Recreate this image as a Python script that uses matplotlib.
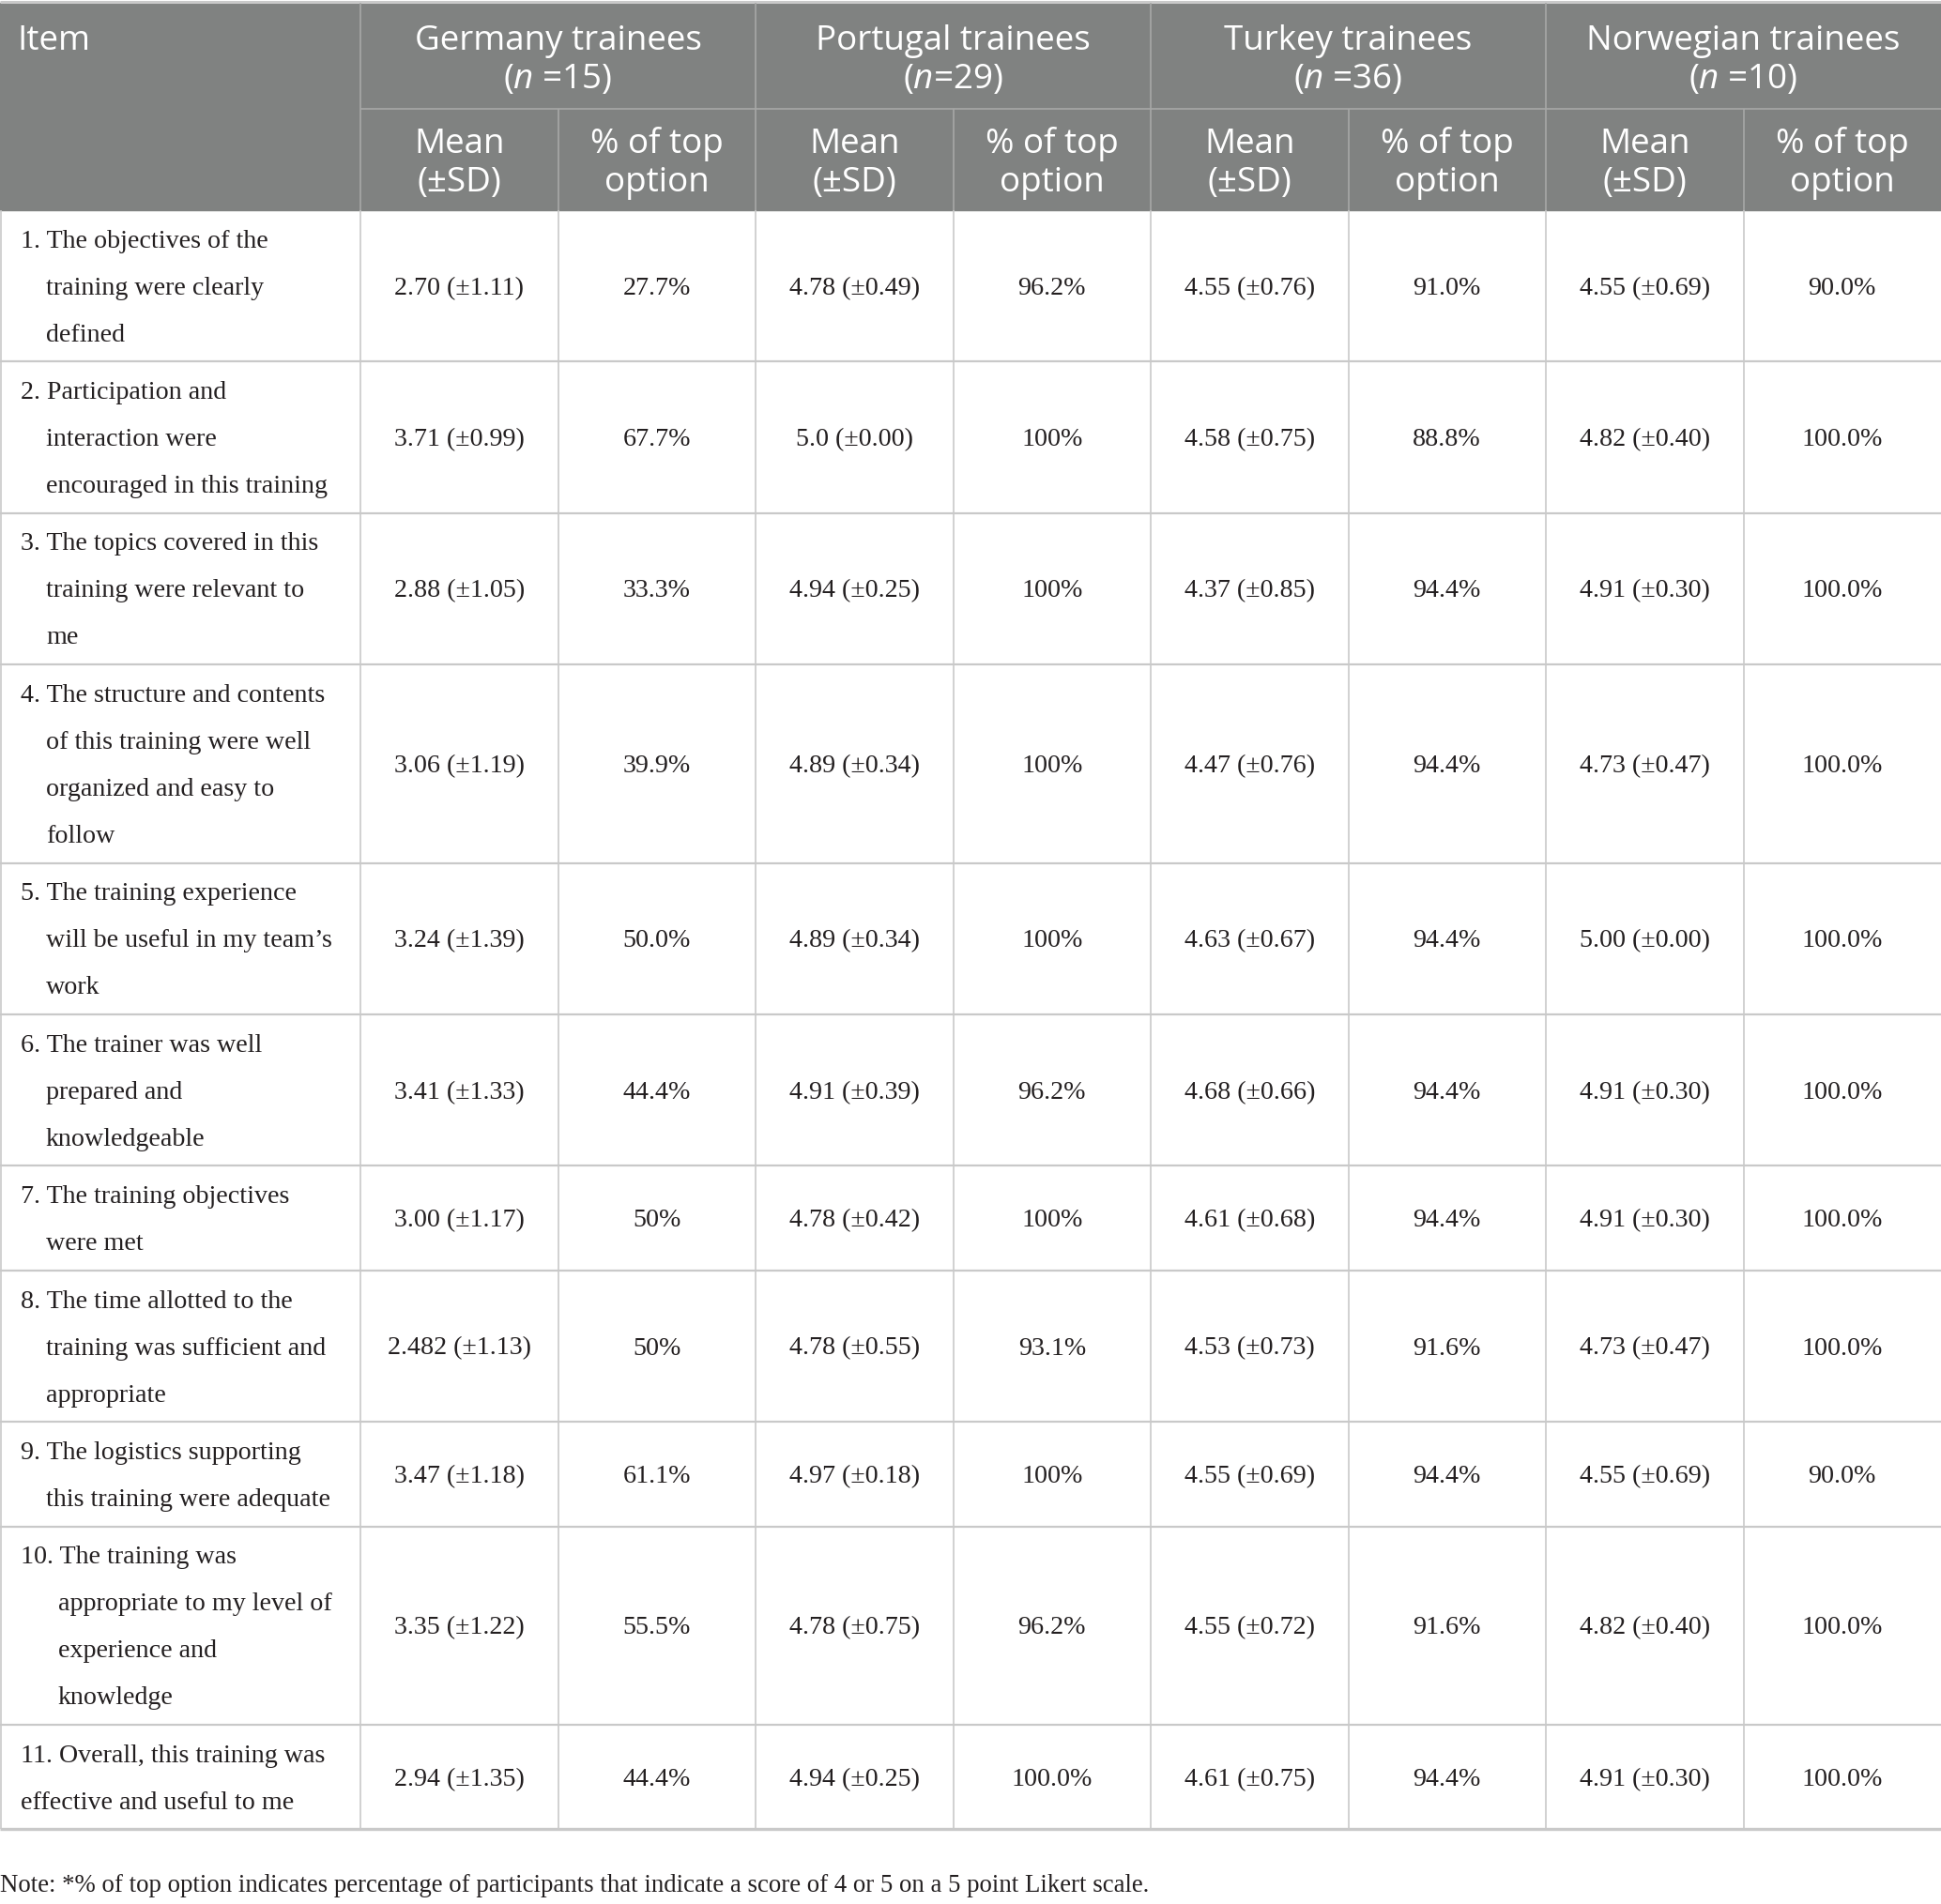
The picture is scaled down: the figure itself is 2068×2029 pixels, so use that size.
import matplotlib
matplotlib.use("Agg")
import matplotlib.pyplot as plt
from matplotlib.patches import Rectangle

W, H = 2068, 2029

groups = ["Germany trainees", "Portugal trainees", "Turkey trainees", "Norwegian trainees"]
group_n = [r"($\mathit{n}$ =15)", r"($\mathit{n}$=29)", r"($\mathit{n}$ =36)", r"($\mathit{n}$ =10)"]
sub_cols = [["Mean", "(±SD)"], ["% of top", "option"]]

items = [
    ["1. The objectives of the", "training were clearly", "defined"],
    ["2. Participation and", "interaction were", "encouraged in this training"],
    ["3. The topics covered in this", "training were relevant to", "me"],
    ["4. The structure and contents", "of this training were well", "organized and easy to", "follow"],
    ["5. The training experience", "will be useful in my team\u2019s", "work"],
    ["6. The trainer was well", "prepared and", "knowledgeable"],
    ["7. The training objectives", "were met"],
    ["8. The time allotted to the", "training was sufficient and", "appropriate"],
    ["9. The logistics supporting", "this training were adequate"],
    ["10. The training was", "appropriate to my level of", "experience and", "knowledge"],
    ["11. Overall, this training was", "effective and useful to me"],
]
# indent of wrapped lines (px)
indents = [27, 27, 27, 27, 27, 27, 27, 27, 27, 40, 0]

germany_mean = ["2.70 (±1.11)", "3.71 (±0.99)", "2.88 (±1.05)", "3.06 (±1.19)", "3.24 (±1.39)", "3.41 (±1.33)",
                "3.00 (±1.17)", "2.482 (±1.13)", "3.47 (±1.18)", "3.35 (±1.22)", "2.94 (±1.35)"]
germany_pct = ["27.7%", "67.7%", "33.3%", "39.9%", "50.0%", "44.4%", "50%", "50%", "61.1%", "55.5%", "44.4%"]
portugal_mean = ["4.78 (±0.49)", "5.0 (±0.00)", "4.94 (±0.25)", "4.89 (±0.34)", "4.89 (±0.34)", "4.91 (±0.39)",
                 "4.78 (±0.42)", "4.78 (±0.55)", "4.97 (±0.18)", "4.78 (±0.75)", "4.94 (±0.25)"]
portugal_pct = ["96.2%", "100%", "100%", "100%", "100%", "96.2%", "100%", "93.1%", "100%", "96.2%", "100.0%"]
turkey_mean = ["4.55 (±0.76)", "4.58 (±0.75)", "4.37 (±0.85)", "4.47 (±0.76)", "4.63 (±0.67)", "4.68 (±0.66)",
               "4.61 (±0.68)", "4.53 (±0.73)", "4.55 (±0.69)", "4.55 (±0.72)", "4.61 (±0.75)"]
turkey_pct = ["91.0%", "88.8%", "94.4%", "94.4%", "94.4%", "94.4%", "94.4%", "91.6%", "94.4%", "91.6%", "94.4%"]
norway_mean = ["4.55 (±0.69)", "4.82 (±0.40)", "4.91 (±0.30)", "4.73 (±0.47)", "5.00 (±0.00)", "4.91 (±0.30)",
               "4.91 (±0.30)", "4.73 (±0.47)", "4.55 (±0.69)", "4.82 (±0.40)", "4.91 (±0.30)"]
norway_pct = ["90.0%", "100.0%", "100.0%", "100.0%", "100.0%", "100.0%", "100.0%", "100.0%", "90.0%", "100.0%", "100.0%"]

note = "Note: *% of top option indicates percentage of participants that indicate a score of 4 or 5 on a 5 point Likert scale."

plt.rcParams["mathtext.fontset"] = "custom"
plt.rcParams["mathtext.rm"] = "Open Sans"
plt.rcParams["mathtext.it"] = "Open Sans:italic"

HEAD_FONT = "Open Sans"
BODY_FONT = "Liberation Serif"
HEAD_SIZE = 26.5
BODY_SIZE = 20.2
NOTE_SIZE = 19.3
HEAD_BG = "#808281"
HEAD_LINE = "#a7a8a7"
GRID = "#c9c9c9"
TXT = "#231f20"

fig = plt.figure(figsize=(W / 100, H / 100), dpi=100)
ax = fig.add_axes([0, 0, 1, 1])
ax.set_xlim(0, W)
ax.set_ylim(H, 0)
ax.axis("off")

item_w = 384
col_w = (W - item_w) / 8
col_x = [item_w + i * col_w for i in range(9)]
head_top, head_mid, head_bot = 3, 116, 224
line_h = 50

# header
ax.add_patch(Rectangle((0, head_top), W, head_bot - head_top, color=HEAD_BG, zorder=0))
ax.hlines(1.5, 0, W, color=GRID, lw=2.2)
ax.hlines(head_mid, item_w, W, color=HEAD_LINE, lw=1.2)
for i, x in enumerate(col_x[:-1]):
    top = head_top if i % 2 == 0 else head_mid
    ax.vlines(x, top, head_bot, color=HEAD_LINE, lw=1.2)

ax.text(18, 41 + 12, "Item", color="white", family=HEAD_FONT, size=HEAD_SIZE, va="baseline", ha="left")
for g in range(4):
    cx = (col_x[2 * g] + col_x[2 * g + 2]) / 2
    ax.text(cx, 41 + 12, groups[g], color="white", family=HEAD_FONT, size=HEAD_SIZE, va="baseline", ha="center")
    ax.text(cx, 82 + 12, group_n[g], color="white", family=HEAD_FONT, size=HEAD_SIZE, va="baseline", ha="center")
    for s in range(2):
        sx = (col_x[2 * g + s] + col_x[2 * g + s + 1]) / 2
        ax.text(sx, 151 + 12, sub_cols[s][0], color="white", family=HEAD_FONT, size=HEAD_SIZE,
                va="baseline", ha="center")
        ax.text(sx, 192 + 12, sub_cols[s][1], color="white", family=HEAD_FONT, size=HEAD_SIZE,
                va="baseline", ha="center")

# body
columns = [germany_mean, germany_pct, portugal_mean, portugal_pct,
           turkey_mean, turkey_pct, norway_mean, norway_pct]
y = head_bot
for r, lines in enumerate(items):
    h = line_h * len(lines) + 11.4
    cy = y + h / 2
    first = cy - (len(lines) - 1) * line_h / 2
    for k, ln in enumerate(lines):
        x = 22 + (indents[r] if k > 0 else 0)
        ax.text(x, first + k * line_h + 9, ln, color=TXT, family=BODY_FONT, size=BODY_SIZE,
                va="baseline", ha="left")
    for c, vals in enumerate(columns):
        cx = (col_x[c] + col_x[c + 1]) / 2
        ax.text(cx, cy + 9, vals[r], color=TXT, family=BODY_FONT, size=BODY_SIZE,
                va="baseline", ha="center")
    ax.vlines(col_x[:-1], y, y + h, color=GRID, lw=1.2)
    ax.vlines(1, y, y + h, color=GRID, lw=1.2)
    y += h
    ax.hlines(y, 0, W, color=GRID, lw=2.4 if r == len(items) - 1 else 1.6)

ax.text(0, 2007 + 9, note, color=TXT, family=BODY_FONT, size=NOTE_SIZE, va="baseline", ha="left")

fig.savefig("out.png", dpi=100)
